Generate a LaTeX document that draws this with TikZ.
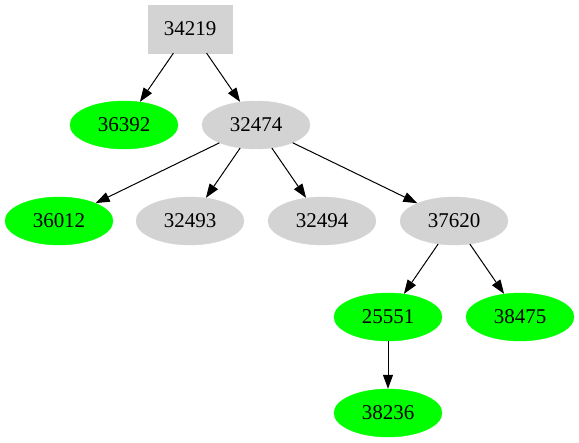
\documentclass[tikz,border=0pt]{standalone}
\usepackage{fontspec}
\setmainfont{Liberation Serif}
\usetikzlibrary{shapes.geometric,arrows.meta}

\definecolor{nodegray}{RGB}{211,211,211}
\definecolor{leafgreen}{RGB}{0,255,0}

\tikzset{
    gnode/.style={ellipse, fill=nodegray, draw=nodegray,
        minimum width=108pt, minimum height=48pt, inner sep=0pt},
    leaf/.style={gnode, fill=leafgreen, draw=leafgreen},
    rootbox/.style={rectangle, fill=nodegray, draw=nodegray,
        minimum width=84pt, minimum height=48pt, inner sep=0pt},
    edge/.style={-{Triangle[length=14pt,width=10pt]}, line width=1pt, black}
}

\begin{document}
\begin{tikzpicture}[x=1pt, y=-1pt, font=\fontsize{21}{25}\selectfont]
        \useasboundingbox (0,0) rectangle (579,443);

        \node[rootbox] (n34219) at (190,29) {34219};

        \node[leaf]  (n36392) at (124,125) {36392};
        \node[gnode] (n32474) at (256,125) {32474};

        \node[leaf]  (n36012) at (59,221)  {36012};
        \node[gnode] (n32493) at (190,221) {32493};
        \node[gnode] (n32494) at (322,221) {32494};
        \node[gnode] (n37620) at (454,221) {37620};

        \node[leaf]  (n25551) at (388,317) {25551};
        \node[leaf]  (n38475) at (520,317) {38475};

        \node[leaf]  (n38236) at (388,413) {38236};

        \foreach \a/\b in {n34219/n36392, n34219/n32474,
                n32474/n36012, n32474/n32493, n32474/n32494, n32474/n37620,
                n37620/n25551, n37620/n38475, n25551/n38236} {
                \draw[edge] (\a) -- (\b);
            }
    \end{tikzpicture}
\end{document}
